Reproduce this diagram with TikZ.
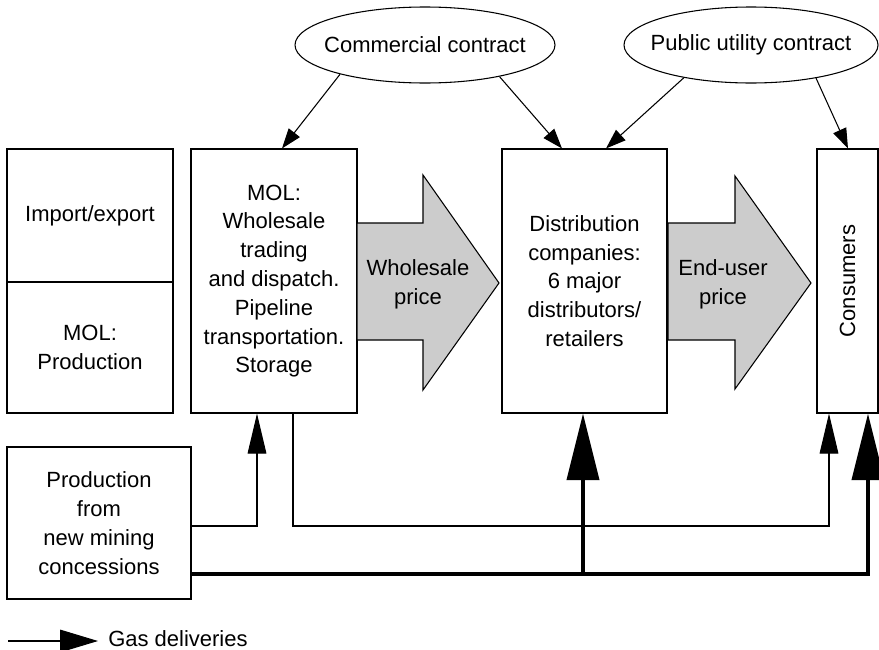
\documentclass[tikz,border=0pt]{standalone}
\usepackage{fontspec}
\setmainfont{Liberation Sans}
\usetikzlibrary{shapes.geometric,arrows.meta,fit}
\begin{document}
\begin{tikzpicture}[x=0.75pt,y=-0.75pt,
  every node/.style={font=\fontsize{16.5pt}{21.6pt}\selectfont},
  box/.style={draw, line width=0.8pt, inner sep=0pt},
  oval/.style={draw, ellipse, line width=0.8pt, inner sep=0pt},
  txt/.style={align=center, inner sep=0pt},
  blockarrow/.style={draw, fill=black!20, line width=0.8pt, line join=miter},
  contract/.style={line width=0.8pt, -{Triangle[length=15pt,width=10.5pt]}},
  gasthin/.style={line width=0.8pt, -{Triangle[length=30pt,width=14pt]}},
  gasthick/.style={line width=3pt, -{Triangle[length=50pt,width=24pt]}},
]
\useasboundingbox (0,0) rectangle (879,650);

% boxes
\node[box, fit={(7,149) (173,282)}] (imp) {};
\node[txt] (impt) at (imp) {Import/export};
\node[box, fit={(7,282) (173,413)}] (molp) {};
\node[txt] (molpt) at (molp) {MOL:\\Production};
\node[box, fit={(191,149) (357,413)}] (mol) {};
\node[txt] (molt) at (mol) {MOL:\\Wholesale\\trading\\and dispatch.\\Pipeline\\transportation.\\Storage};
\node[box, fit={(502,149) (667,413)}] (dist) {};
\node[txt] (distt) at (dist) {Distribution\\companies:\\6 major\\distributors/\\retailers};
\node[box, fit={(817,149) (878,413)}] (cons) {};
\node[txt, rotate=90] (const) at (cons) {Consumers};
\node[box, fit={(7,447) (191,599)}] (prod) {};
\node[txt] (prodt) at (prod) {Production\\from\\new mining\\concessions};

% ellipses
\node[oval, minimum width=195pt, minimum height=57pt] (comm) at (425,45) {};
\node[txt] (commt) at (comm) {Commercial contract};
\node[oval, minimum width=190.5pt, minimum height=57pt] (pub) at (751,45) {};
\node[txt] (pubt) at (pub) {Public utility contract};

% block arrows
\draw[blockarrow] (357,223) -- (423,223) -- (423,175) -- (499,283) -- (423,390) -- (423,340) -- (357,340) -- cycle;
\node[txt] (wp) at (418,284) {Wholesale\\price};
\draw[blockarrow] (668,223) -- (735,223) -- (735,176) -- (811,283) -- (735,389) -- (735,340) -- (668,340) -- cycle;
\node[txt] (ep) at (723,284) {End-user\\price};

% contract arrows
\coordinate (t1) at (mol.north -| 282,0);
\coordinate (t2) at (dist.north -| 562,0);
\coordinate (t3) at (dist.north -| 606,0);
\coordinate (t4) at (cons.north -| 848,0);
\draw[contract] (comm.199) -- (t1);
\draw[contract] (comm.337) -- (t2);
\draw[contract] (pub.206) -- (t3);
\draw[contract] (pub.333) -- (t4);

% gas deliveries
\draw[gasthin] (prod.east |- 0,526) -| (mol.south -| 257,0);
\draw[gasthin] (mol.south -| 293,0) -- (293,526) -| (cons.south -| 829,0);
\draw[gasthick, line join=miter] (prod.east |- 0,574) -| (cons.south -| 868,0);
\draw[gasthick] (583,575) -- (dist.south -| 583,0);

% legend
\coordinate (lg1) at (8,641);
\coordinate (lg2) at (98,641);
\draw[line width=0.8pt, -{Triangle[length=28.5pt,width=17pt]}] (lg1) -- (lg2);
\node[txt, anchor=base west] (lgt) at (108,646) {Gas deliveries};
\end{tikzpicture}
\end{document}
